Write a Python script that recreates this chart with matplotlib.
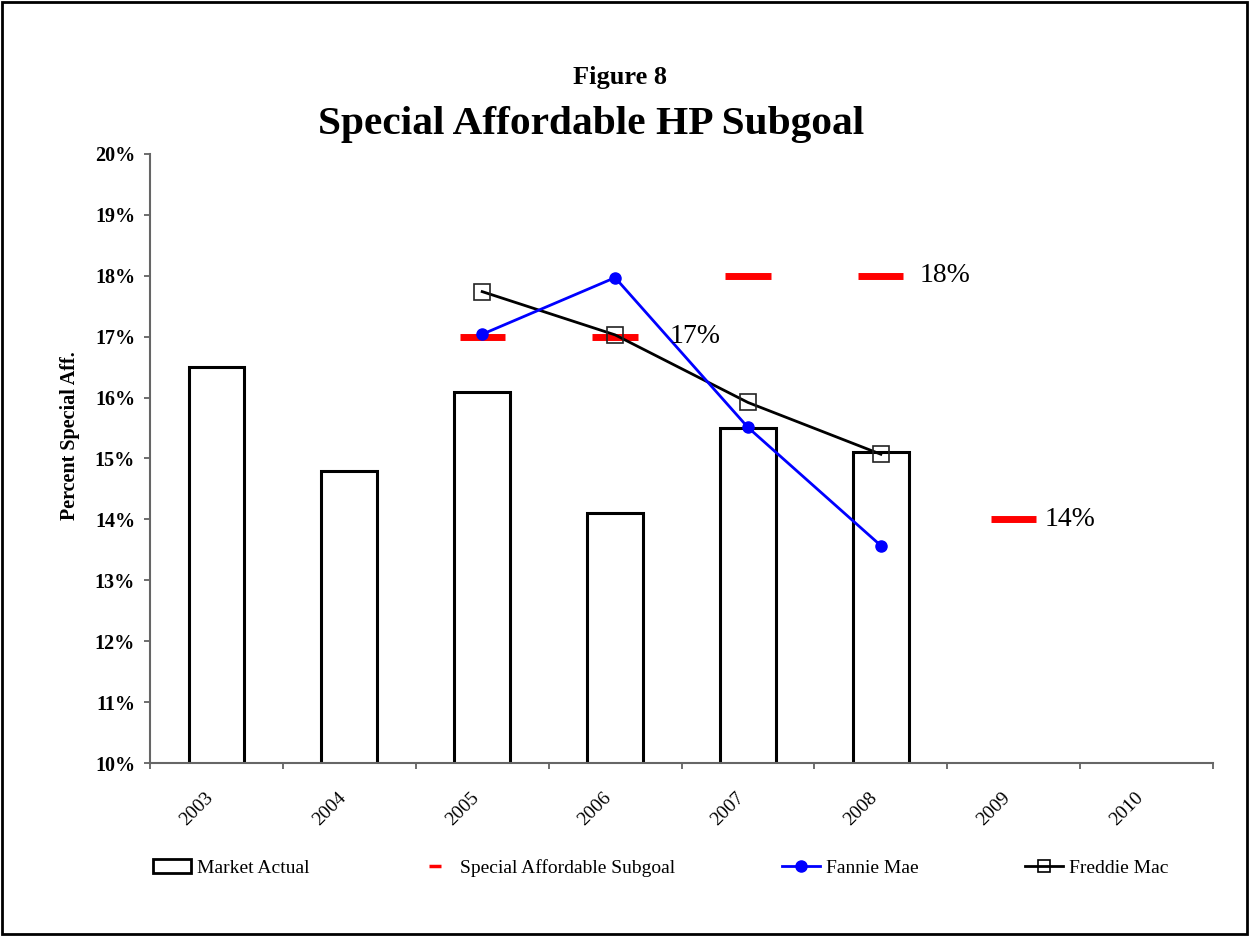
import matplotlib.pyplot as plt
from matplotlib.patches import Rectangle
from matplotlib.lines import Line2D
import numpy as np

# data
years = ['2003', '2004', '2005', '2006', '2007', '2008', '2009', '2010']
market_actual = [16.5, 14.8, 16.1, 14.1, 15.5, 15.1]
subgoal_years = ['2005', '2006', '2007', '2008', '2009']
subgoal = [17, 17, 18, 18, 14]
fannie_years = ['2005', '2006', '2007', '2008']
fannie = [17.04, 17.97, 15.51, 13.57]
freddie = [17.74, 17.03, 15.92, 15.07]
# labels shown next to some subgoal dashes: (year, value, text)
goal_labels = [('2006', 17, '17%'), ('2008', 18, '18%'), ('2009', 14, '14%')]

plt.rcParams['font.family'] = ['Liberation Serif', 'DejaVu Serif']

fig = plt.figure(figsize=(12.49, 9.36), dpi=100)
ax = fig.add_axes([0.1201, 0.1848, 0.9712 - 0.1201, 0.8355 - 0.1848])

x = np.arange(len(years))
pos = {y: i for i, y in enumerate(years)}

ax.bar(x[:len(market_actual)], market_actual, width=0.42, bottom=0,
       facecolor='white', edgecolor='black', linewidth=2.2, zorder=2)

sx = [pos[y] for y in subgoal_years]
ax.hlines(subgoal, np.array(sx) - 0.17, np.array(sx) + 0.17, color='#ff0000',
          linewidth=5, zorder=3)

fx = [pos[y] for y in fannie_years]
ax.plot(fx, fannie, color='#0000ff', linewidth=2, marker='o', markersize=8, zorder=5)
ax.plot(fx, freddie, color='black', linewidth=2, marker='s', markersize=11,
        markerfacecolor='none', markeredgecolor='#222222', markeredgewidth=1.2, zorder=4)

offsets = {'2006': 0.41, '2008': 0.29, '2009': 0.23}
for yr, val, txt in goal_labels:
    ax.text(pos[yr] + offsets[yr], val, txt, fontsize=20, va='center', ha='left', zorder=6)

ax.set_xlim(-0.5, len(years) - 0.5)
ax.set_ylim(10, 20)
ax.set_yticks(np.arange(10, 21, 1))
ax.set_yticklabels([f'{v}%' for v in range(10, 21)], fontsize=14.5, fontweight='bold')
ax.set_xticks(x)
ax.set_xticklabels(years, rotation=45, fontsize=14, ha='right', va='top')
ax.set_xticks(np.arange(-0.5, len(years)), minor=True)
ax.tick_params(axis='x', which='major', length=0, pad=19)
ax.tick_params(axis='x', which='minor', length=4.3, width=1.2, color='#555555', direction='out')
ax.tick_params(axis='y', length=4.3, width=1.2, color='#555555', direction='out', pad=6.5)
for s in ['top', 'right']:
    ax.spines[s].set_visible(False)
for s in ['left', 'bottom']:
    ax.spines[s].set_color('#666666')
    ax.spines[s].set_linewidth(1.5)

ax.set_ylabel('Percent Special Aff.', fontsize=14.5, fontweight='bold')
ax.yaxis.set_label_coords(-0.0659, 0.537)

fig.text(0.496, 0.917, 'Figure 8', fontsize=19, fontweight='bold', ha='center', va='center')
fig.text(0.473, 0.867, 'Special Affordable HP Subgoal', fontsize=29.8, fontweight='bold',
         ha='center', va='center')

handles = [
    Rectangle((0, 0), 1, 1, facecolor='white', edgecolor='black', linewidth=2),
    Line2D([], [], color='#ff0000', linestyle='none', marker='_', markersize=9,
           markeredgewidth=2.5),
    Line2D([], [], color='#0000ff', linewidth=2, marker='o', markersize=8),
    Line2D([], [], color='black', linewidth=2, marker='s', markersize=9,
           markerfacecolor='none', markeredgewidth=1.2),
]
labels = ['Market Actual', 'Special Affordable Subgoal', 'Fannie Mae', 'Freddie Mac']
fig.legend(handles, labels, loc='center', bbox_to_anchor=(0.529, 0.073), ncol=4,
           frameon=False, fontsize=14, columnspacing=5.5, handlelength=1.95,
           handletextpad=0.3)

fig.patches.append(Rectangle((0.002, 0.002), 0.996, 0.996, transform=fig.transFigure,
                             fill=False, edgecolor='black', linewidth=2))

fig.savefig('out.png', dpi=100)
